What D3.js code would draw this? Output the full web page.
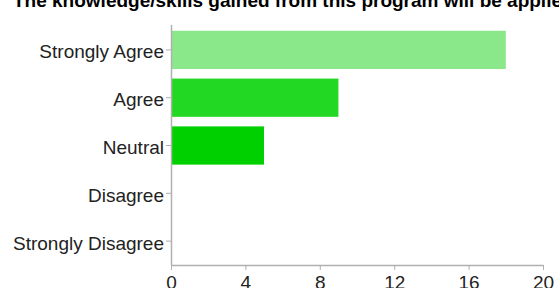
<!DOCTYPE html>
<html><head><meta charset="utf-8">
<script src="https://cdn.jsdelivr.net/npm/d3@7"></script>
<style>body{margin:0;background:#fff;}svg{display:block;}</style>
</head><body>
<script>
const categories = ["Strongly Agree","Agree","Neutral","Disagree","Strongly Disagree"];
const values = [18, 9, 5, 0, 0];
const barColors = ["#8ae88a","#22d822","#00d000","#00c000","#00b000"];
const xTicks = [0,4,8,12,16,20];
const title = "The knowledge/skills gained from this program will be applied in my work";

const W = 559, H = 288;
const svg = d3.select("body").append("svg").attr("width", W).attr("height", H);

const x = d3.scaleLinear().domain([0,20]).range([171, 543]);
const y = d3.scaleBand().domain(categories).range([26, 265]).paddingInner(0.2).paddingOuter(0.1);

svg.append("text").attr("x", 13).attr("y", 6.5)
  .attr("font-family", "Liberation Sans, Arial, sans-serif").attr("font-weight", "bold")
  .attr("font-size", 19).attr("fill", "#000").text(title);

svg.selectAll("rect.bar").data(categories).join("rect").attr("class","bar")
  .attr("x", x(0)).attr("y", d => y(d))
  .attr("width", (d,i) => x(values[i]) - x(0)).attr("height", y.bandwidth())
  .attr("fill", (d,i) => barColors[i]);

const xAxis = svg.append("g").attr("transform", "translate(0,265)")
  .call(d3.axisBottom(x).tickValues(xTicks).tickSize(5).tickSizeOuter(0).tickPadding(6));
const yAxis = svg.append("g").attr("transform", "translate(171,0)")
  .call(d3.axisLeft(y).tickSize(5).tickSizeOuter(0).tickPadding(2));
yAxis.select(".domain").attr("d", "M0.5,25V265");
yAxis.selectAll(".tick text").attr("dy", "0.45em");
[xAxis, yAxis].forEach(g => {
  g.select(".domain").attr("stroke", "#b0b0b0").attr("stroke-width", 1.5);
  g.selectAll(".tick line").attr("stroke", "#b0b0b0");
  g.selectAll(".tick text").attr("font-family", "Liberation Sans, Arial, sans-serif")
    .attr("font-size", 19).attr("fill", "#222");
});
</script>
</body></html>
